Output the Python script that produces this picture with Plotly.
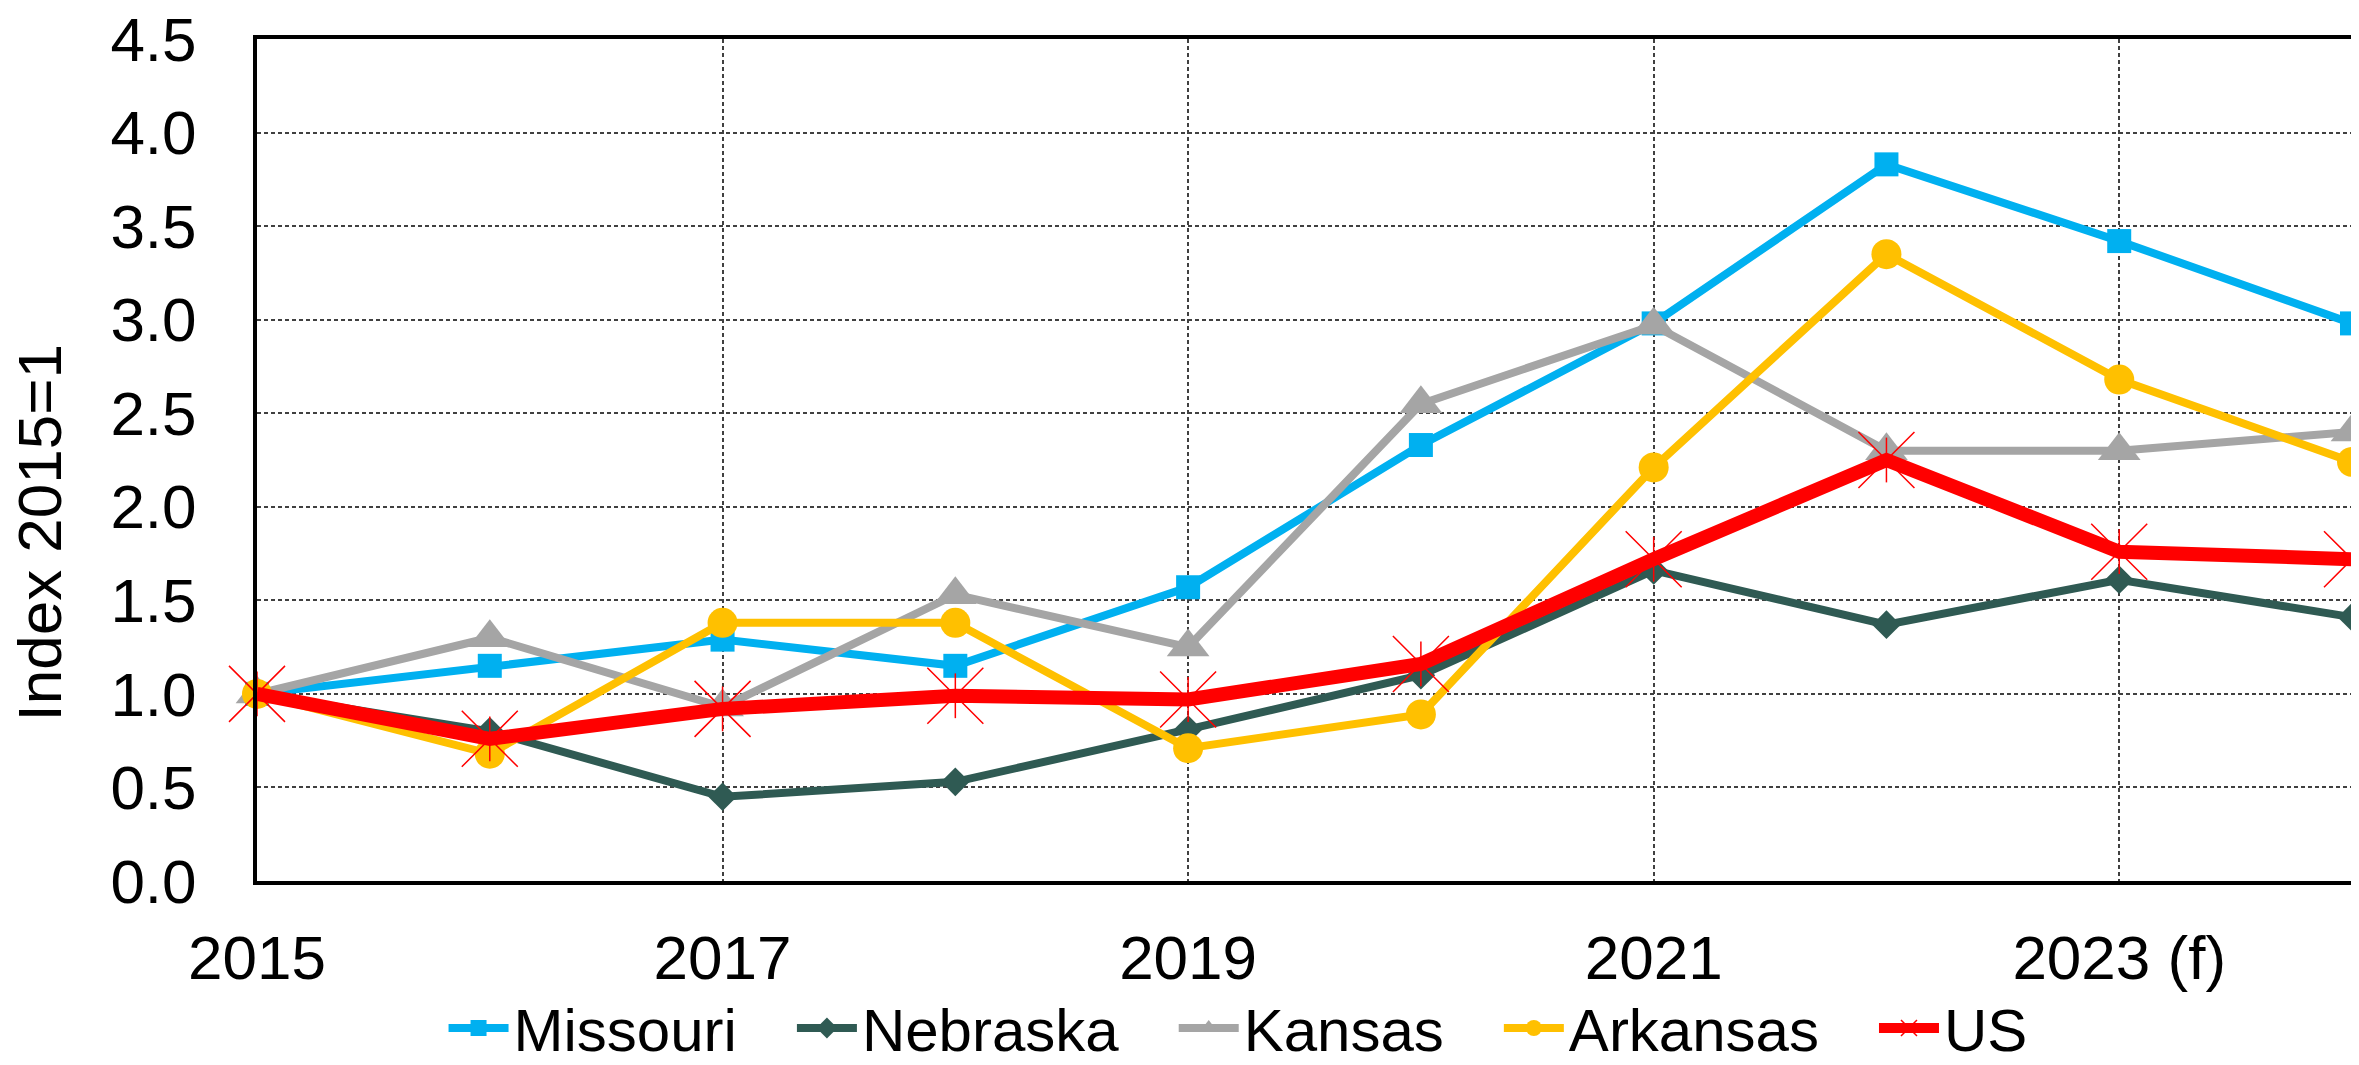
import plotly.graph_objects as go

years = [2015, 2016, 2017, 2018, 2019, 2020, 2021, 2022, 2023, 2024]
tick_years = [2015, 2017, 2019, 2021, 2023]
tick_labels = ["2015", "2017", "2019", "2021", "2023 (f)"]

missouri = [1.00, 1.15, 1.29, 1.15, 1.57, 2.33, 2.98, 3.83, 3.42, 2.98]
nebraska = [1.00, 0.80, 0.45, 0.53, 0.81, 1.10, 1.66, 1.37, 1.61, 1.41]
kansas = [1.00, 1.30, 0.93, 1.53, 1.25, 2.55, 2.97, 2.30, 2.30, 2.40]
arkansas = [1.00, 0.68, 1.38, 1.38, 0.71, 0.89, 2.21, 3.35, 2.68, 2.24]
us = [1.00, 0.76, 0.92, 0.99, 0.97, 1.16, 1.72, 2.25, 1.76, 1.72]

y_title = "Index 2015=1"

FONT = "Liberation Sans, Arial, sans-serif"
GAP = "\u00a0\u00a0\u00a0"

fig = go.Figure()

series = [
    ("Missouri", missouri, "#00B0F0", "square", 24, 8),
    ("Nebraska", nebraska, "#2F5A53", "diamond", 22, 8),
    ("Kansas", kansas, "#A5A5A5", "triangle-up", 37, 8),
    ("Arkansas", arkansas, "#FFC000", "circle", 30, 8),
]
for name, vals, color, sym, size, lw in series:
    fig.add_trace(go.Scatter(
        x=years, y=vals, name=name + GAP, mode="lines+markers",
        line=dict(color=color, width=lw),
        marker=dict(symbol=sym, size=size, color=color, line=dict(width=0)),
        cliponaxis=False,
    ))

fig.add_trace(go.Scatter(
    x=years, y=us, name="US", mode="lines+markers",
    line=dict(color="#FF0000", width=14),
    marker=dict(symbol="x-thin-open", size=56, color="#FF0000",
                line=dict(width=1.5, color="#FF0000")),
    cliponaxis=False,
))
fig.add_trace(go.Scatter(
    x=years, y=us, name="US", mode="markers", showlegend=False,
    marker=dict(symbol="line-ns-open", size=32, color="#FF0000",
                line=dict(width=1.5, color="#FF0000")),
    cliponaxis=False,
))

fig.add_annotation(
    text=y_title, xref="paper", yref="paper", x=-0.104, y=0.414,
    xanchor="center", yanchor="middle", textangle=-90, showarrow=False,
    font=dict(family=FONT, size=62, color="black"),
)

# page body has an 8px default margin, so the figure is sized to fit the window
fig.update_layout(
    width=2351, height=1057,
    margin=dict(l=249, r=7, t=31, b=184, autoexpand=False),
    paper_bgcolor="white", plot_bgcolor="white",
    font=dict(family=FONT, size=60, color="black"),
    showlegend=True,
    legend=dict(
        orientation="h", xref="container", yref="container",
        x=0.5232, xanchor="center", y=0.035, yanchor="middle",
        font=dict(family=FONT, size=60, color="black"),
        itemwidth=60, tracegroupgap=0,
        bgcolor="rgba(0,0,0,0)",
    ),
    xaxis=dict(
        range=[2015, 2024], tickmode="array", tickvals=tick_years, ticktext=tick_labels,
        showgrid=True, gridcolor="#404040", gridwidth=1.5, griddash="4px,3px",
        showline=True, linecolor="black", linewidth=4, mirror=True,
        ticks="", ticklabelstandoff=20, zeroline=False, ticklabeloverflow="allow",
        tickfont=dict(family=FONT, size=62, color="black"),
    ),
    yaxis=dict(
        range=[0, 4.5], dtick=0.5, tick0=0, tickformat=".1f",
        showgrid=True, gridcolor="#404040", gridwidth=1.5, griddash="4px,3px",
        showline=True, linecolor="black", linewidth=4, mirror=True,
        ticks="", ticklabelstandoff=44, zeroline=False, ticklabeloverflow="allow",
        tickfont=dict(family=FONT, size=62, color="black"),
    ),
)

fig.write_html("out.html")
